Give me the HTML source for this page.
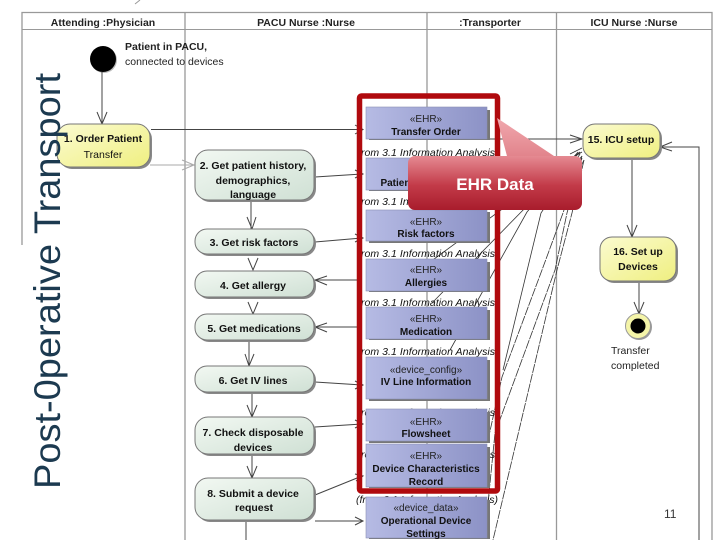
<!DOCTYPE html>
<html><head><meta charset="utf-8"><style>
html,body{margin:0;padding:0;background:#fff}
svg{display:block;filter:blur(.3px)}
text{font-family:"Liberation Sans",sans-serif}
.h{font-size:10.5px;font-weight:bold;fill:#222;text-anchor:middle}
.n{font-size:10.5px;font-weight:bold;fill:#111;text-anchor:middle}
.l{font-size:10.5px;fill:#222}
.s{font-size:10px;fill:#222;text-anchor:middle}
.b{font-size:10px;font-weight:bold;fill:#111;text-anchor:middle}
.i{font-size:10.5px;font-style:italic;fill:#111}
.c{stroke:#444;stroke-width:1;fill:none}
.d{stroke:#333;stroke-width:.8;fill:none}
</style></head><body>
<svg width="720" height="540" viewBox="0 0 720 540" xmlns="http://www.w3.org/2000/svg">
<defs>
<linearGradient id="y" x1="0" y1="0" x2="1" y2="1"><stop offset="0" stop-color="#fbfbd0"/><stop offset="1" stop-color="#efef80"/></linearGradient>
<linearGradient id="g" x1="0" y1="0" x2="1" y2="1"><stop offset="0" stop-color="#f2f8f2"/><stop offset="1" stop-color="#cfe0d4"/></linearGradient>
<linearGradient id="p" x1="0" y1="0" x2="1" y2="0"><stop offset="0" stop-color="#b6bbe4"/><stop offset="1" stop-color="#8c92c6"/></linearGradient>
<linearGradient id="r" x1="0" y1="0" x2="0" y2="1"><stop offset="0" stop-color="#e58a92"/><stop offset=".55" stop-color="#c23a48"/><stop offset="1" stop-color="#a81c2c"/></linearGradient>
<linearGradient id="t" x1="0" y1="0" x2="0" y2="1"><stop offset="0" stop-color="#f0a8ae"/><stop offset="1" stop-color="#e08088"/></linearGradient>
</defs>

<!-- lanes -->
<g stroke="#999" fill="none" stroke-width="1">
<path d="M22 245V12.500H712V540" stroke-width="1.300"/>
<path d="M22 29.500H712"/>
<path d="M185 12V540M427 12V500M556.500 12V540" stroke-width="1.300"/>
</g>
<path d="M135 4L140 0" stroke="#999" fill="none"/>
<text class="h" x="103" y="26">Attending :Physician</text>
<text class="h" x="306" y="26">PACU Nurse :Nurse</text>
<text class="h" x="490" y="26">:Transporter</text>
<text class="h" x="634" y="26">ICU Nurse :Nurse</text>

<!-- start -->
<circle cx="104" cy="60" r="13" fill="#bbb"/><circle cx="103" cy="59" r="13" fill="#000"/>
<text class="l" x="125" y="50" style="font-weight:bold">Patient in PACU,</text>
<text class="l" x="125" y="65">connected to devices</text>

<!-- connectors -->
<g class="c">
<path class="c" d="M102 72V124M97 112L102 124L107 112"/>
<path d="M150 165H194M182 160L194 165L182 170" stroke="#aaa" fill="none"/>
<path class="c" d="M151 129.500H362M355 125L363 129.500L355 134"/>
<path class="c" d="M315 177L362 174M355 170L363 174L355 178"/>
<path class="c" d="M251 200V229M247 217L252 229L256 217"/>
<path class="c" d="M315 242L362 238M355 234L363 238L355 242"/>
<path class="c" d="M248 258L253 270L258 258"/>
<path class="c" d="M315 280H362M327 276L315 280L327 285"/>
<path class="c" d="M248 302L253 314L258 302"/>
<path class="c" d="M315 327H362M327 323L315 327L327 332"/>
<path class="c" d="M249 340V366M245 354L249 366L254 354"/>
<path class="c" d="M315 382L362 385M355 381L363 385L355 389"/>
<path class="c" d="M252 392V417M247 405L252 417L257 405"/>
<path class="c" d="M315 427L362 424M355 420L363 424L355 428"/>
<path class="c" d="M252 454V478M247 466L252 478L257 466"/>
<path class="c" d="M315 495L362 476M355 474L363 476L356 481"/>
<path class="c" d="M315 521H362M355 517L363 521L355 525"/>
<path class="c" d="M246 520V540"/>
<path class="c" d="M487 139H582M570 135L582 139L570 143"/>
<path class="c" d="M632 158V237M627 225L632 237L637 225"/>
<path class="c" d="M639 281V314M634 302L639 314L644 302"/>
<path class="c" d="M660 147H699V540M672 142L660 147L672 151"/>
</g>
<g class="d">
<path d="M580 152L430 262"/>
<path d="M580 152L432 303"/>
<path d="M578 152L527 212L450 350"/>
<path d="M580 154L541 213L503 370"/>
<path d="M582 156L563 213L542 270L502 377L488 440" stroke-dasharray="9 1"/>
<path d="M582 158L567 213L555 270L495 433L487 513" stroke-dasharray="9 1"/>
<path d="M584 160L572 213L557 270L493 540" stroke-dasharray="9 1"/>
<path d="M582 148L570 154M582 152L572 158M582 156L574 166M584 160L578 172"/>
</g>

<!-- activity nodes -->
<g stroke="#777" stroke-width="1">
<g fill="#888" stroke="none">
<rect x="59" y="126" width="93" height="43" rx="13"/>
<rect x="197" y="152" width="119" height="50" rx="13"/>
<rect x="197" y="231" width="119" height="25" rx="12"/>
<rect x="197" y="273" width="119" height="26" rx="12"/>
<rect x="197" y="316" width="119" height="26" rx="12"/>
<rect x="197" y="368" width="119" height="26" rx="12"/>
<rect x="197" y="419" width="119" height="37" rx="13"/>
<rect x="197" y="480" width="119" height="42" rx="13"/>
<rect x="585" y="126" width="77" height="34" rx="12"/>
<rect x="602" y="239" width="76" height="44" rx="12"/>
</g>
<rect x="57" y="124" width="93" height="43" rx="13" fill="url(#y)"/>
<rect x="195" y="150" width="119" height="50" rx="13" fill="url(#g)"/>
<rect x="195" y="229" width="119" height="25" rx="12" fill="url(#g)"/>
<rect x="195" y="271" width="119" height="26" rx="12" fill="url(#g)"/>
<rect x="195" y="314" width="119" height="26" rx="12" fill="url(#g)"/>
<rect x="195" y="366" width="119" height="26" rx="12" fill="url(#g)"/>
<rect x="195" y="417" width="119" height="37" rx="13" fill="url(#g)"/>
<rect x="195" y="478" width="119" height="42" rx="13" fill="url(#g)"/>
<rect x="583" y="124" width="77" height="34" rx="12" fill="url(#y)"/>
<rect x="600" y="237" width="76" height="44" rx="12" fill="url(#y)"/>
</g>
<text class="n" x="103" y="142">1. Order Patient</text>
<text class="n" x="103" y="158" style="font-weight:normal">Transfer</text>
<text class="n" x="253" y="169">2. Get patient history,</text>
<text class="n" x="253" y="184">demographics,</text>
<text class="n" x="253" y="198">language</text>
<text class="n" x="254" y="246">3. Get risk factors</text>
<text class="n" x="253" y="289">4. Get allergy</text>
<text class="n" x="254" y="332">5. Get medications</text>
<text class="n" x="253" y="384">6. Get IV lines</text>
<text class="n" x="253" y="436">7. Check disposable</text>
<text class="n" x="253" y="451">devices</text>
<text class="n" x="253" y="497">8. Submit a device</text>
<text class="n" x="254" y="511">request</text>
<text class="n" x="621" y="143">15. ICU setup</text>
<text class="n" x="638" y="255">16. Set up</text>
<text class="n" x="638" y="270">Devices</text>

<!-- end -->
<circle cx="639" cy="327" r="13" fill="#999"/>
<circle cx="638" cy="326" r="12.500" fill="#f4f4a8" stroke="#999"/>
<circle cx="638" cy="326" r="7.500" fill="#000"/>
<text class="l" x="611" y="354">Transfer</text>
<text class="l" x="611" y="369">completed</text>

<!-- from labels -->
<g>
<text class="i" x="358" y="156" textLength="137">from 3.1 Information Analysis</text>
<text class="i" x="358" y="205" textLength="137">from 3.1 Information Analysis</text>
<text class="i" x="358" y="257" textLength="137">from 3.1 Information Analysis</text>
<text class="i" x="358" y="306" textLength="137">from 3.1 Information Analysis</text>
<text class="i" x="358" y="355" textLength="137">from 3.1 Information Analysis</text>
<text class="i" x="358" y="416" textLength="137">from 3.1 Information Analysis</text>
<text class="i" x="358" y="458" textLength="137">from 3.1 Information Analysis</text>
<text class="i" x="356" y="503" textLength="142">(from 3.1 Information Analysis)</text>
</g>

<!-- data boxes -->
<g fill="#777">
<rect x="369" y="110" width="121" height="30"/>
<rect x="369" y="161" width="121" height="30"/>
<rect x="369" y="212" width="121" height="31"/>
<rect x="369" y="262" width="121" height="30"/>
<rect x="369" y="310" width="121" height="30"/>
<rect x="369" y="360" width="121" height="41"/>
<rect x="369" y="412" width="121" height="31"/>
<rect x="369" y="447" width="121" height="41"/>
<rect x="369" y="500" width="121" height="39"/>
</g>
<g fill="url(#p)" stroke="#8a8fb5" stroke-width=".6">
<rect x="366" y="107" width="121" height="32"/>
<rect x="366" y="158" width="121" height="32"/>
<rect x="366" y="210" width="121" height="31"/>
<rect x="366" y="259" width="121" height="32"/>
<rect x="366" y="307" width="121" height="32"/>
<rect x="366" y="357" width="121" height="42"/>
<rect x="366" y="409" width="121" height="32"/>
<rect x="366" y="444" width="121" height="43"/>
<rect x="366" y="497" width="121" height="41"/>
</g>
<text class="s" x="426" y="122">«EHR»</text><text class="b" x="426" y="135">Transfer Order</text>
<text class="b" x="426" y="186">Patient Information</text>
<text class="s" x="426" y="225">«EHR»</text><text class="b" x="426" y="237">Risk factors</text>
<text class="s" x="426" y="273">«EHR»</text><text class="b" x="426" y="286">Allergies</text>
<text class="s" x="426" y="322">«EHR»</text><text class="b" x="426" y="335">Medication</text>
<text class="s" x="426" y="373">«device_config»</text><text class="b" x="426" y="385">IV Line Information</text>
<text class="s" x="426" y="425">«EHR»</text><text class="b" x="426" y="437">Flowsheet</text>
<text class="s" x="426" y="459">«EHR»</text><text class="b" x="426" y="472">Device Characteristics</text><text class="b" x="426" y="485">Record</text>
<text class="s" x="426" y="511">«device_data»</text><text class="b" x="426" y="524">Operational Device</text><text class="b" x="426" y="537">Settings</text>

<!-- red frame -->
<rect x="359.500" y="96" width="138" height="395" rx="2" fill="none" stroke="#b00a0e" stroke-width="5.500"/>

<!-- callout -->
<polygon points="497,118 508,160 560,160" fill="url(#t)"/>
<rect x="408" y="156" width="174" height="54" rx="7" fill="url(#r)"/>
<text x="495" y="190" text-anchor="middle" style="font-size:17px;font-weight:bold;fill:#fff">EHR Data</text>

<!-- title -->
<text transform="translate(60,489) rotate(-90)" textLength="416" lengthAdjust="spacingAndGlyphs" style="font-size:37px;fill:#1c3a50">Post-0perative Transport</text>

<text x="664" y="518" style="font-size:12px;fill:#333">11</text>
</svg>
</body></html>
